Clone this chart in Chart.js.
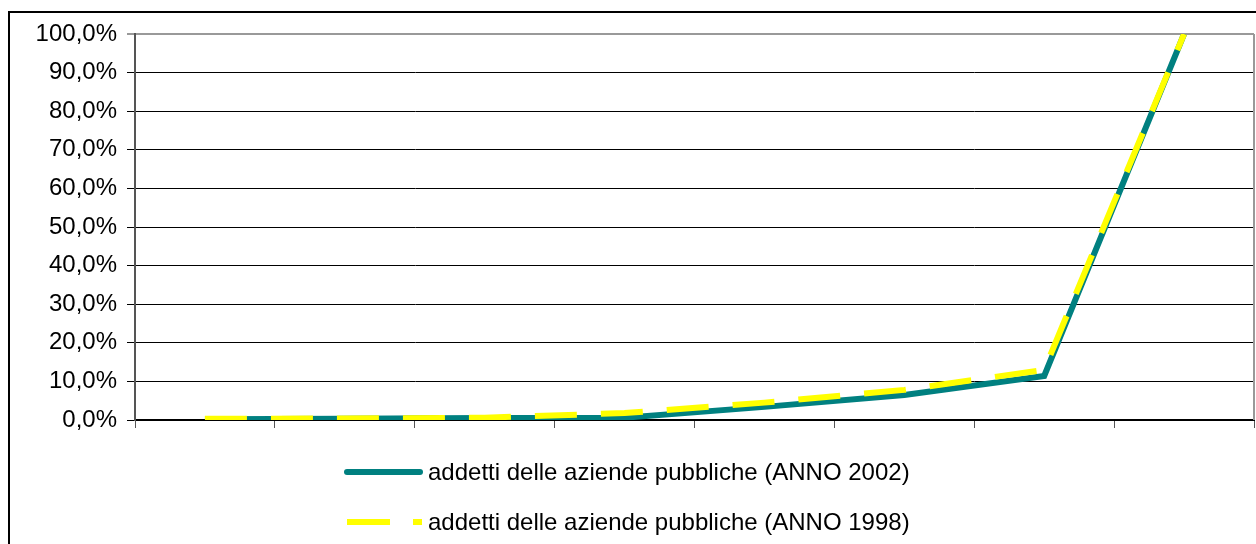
<!DOCTYPE html>
<html>
<head>
<meta charset="utf-8">
<script src="https://cdn.jsdelivr.net/npm/chart.js@4/dist/chart.umd.min.js"></script>
<style>
  html, body { margin: 0; padding: 0; background: #fff; overflow: hidden; }
  #frame { position: absolute; left: 8px; top: 11px; width: 1300px; height: 600px; border: 2px solid #000; }
  #wrap { position: absolute; left: 0; top: 0; width: 1256px; height: 544px; }
</style>
</head>
<body>
<div id="frame"></div>
<div id="wrap"><canvas id="chart" width="1256" height="544"></canvas></div>
<script>
// categories (labels are not printed on the original chart)
var categories = ["1", "2", "3", "4", "5", "6", "7", "8"];
// cumulative share of employees, %
var anno2002 = [0.2, 0.3, 0.5, 0.6, 3.4, 6.5, 11.4, 100];
var anno1998 = [0.3, 0.4, 0.6, 1.8, 4.5, 7.8, 13.0, 100];
var seriesNames = ["addetti delle aziende pubbliche (ANNO 2002)", "addetti delle aziende pubbliche (ANNO 1998)"];
var yTicks = [0, 10, 20, 30, 40, 50, 60, 70, 80, 90, 100];

var FONT = '"Liberation Sans", Arial, sans-serif';

function fmtPct(v) {
    return v.toFixed(1).replace('.', ',') + '%';
}

// legend drawn by hand: stacked rows, line samples
var legendPlugin = {
    id: 'excelLegend',
    beforeDatasetsDraw: function(chart) {
        var a = chart.chartArea, ctx = chart.ctx;
        ctx.save();
        ctx.strokeStyle = '#999';
        ctx.lineWidth = 2;
        ctx.beginPath();
        ctx.moveTo(a.right, a.top);
        ctx.lineTo(a.right, a.bottom);
        ctx.stroke();
        ctx.restore();
    },
    afterDraw: function(chart) {
        var ctx = chart.ctx;
        var rows = [472, 522];
        ctx.save();
        chart.data.datasets.forEach(function(ds, i) {
            var y = rows[i];
            ctx.strokeStyle = ds.borderColor;
            ctx.lineWidth = 6;
            if (ds.borderDash && ds.borderDash.length) {
                ctx.lineCap = 'butt';
                ctx.setLineDash([43, 23]);
                ctx.beginPath();
                ctx.moveTo(347, y);
                ctx.lineTo(422, y);
                ctx.stroke();
            } else {
                ctx.lineCap = 'round';
                ctx.setLineDash([]);
                ctx.beginPath();
                ctx.moveTo(347, y);
                ctx.lineTo(420, y);
                ctx.stroke();
            }
            ctx.setLineDash([]);
            ctx.fillStyle = '#000';
            ctx.font = '24px ' + FONT;
            ctx.textAlign = 'left';
            ctx.textBaseline = 'middle';
            ctx.fillText(ds.label, 428, y + 1);
        });
        ctx.restore();
    }
};

var ctx = document.getElementById("chart");
var myChart = new Chart(ctx, {
    type: 'line',
    data: {
        labels: categories,
        datasets: [
            {
                label: seriesNames[0],
                data: anno2002,
                borderColor: '#008080',
                backgroundColor: '#008080',
                borderWidth: 6,
                borderJoinStyle: 'miter',
                pointRadius: 0,
                tension: 0,
                fill: false,
                order: 1
            }, {
                label: seriesNames[1],
                data: anno1998,
                borderColor: '#ffff00',
                backgroundColor: '#ffff00',
                borderWidth: 6,
                borderDash: [42, 24],
                borderCapStyle: 'butt',
                pointRadius: 0,
                tension: 0,
                fill: false,
                order: 0
            }
        ]
    },
    options: {
        responsive: false,
        animation: false,
        devicePixelRatio: 1,
        layout: { padding: { top: 34, right: 2, bottom: 0, left: 0 } },
        plugins: {
            legend: { display: false },
            tooltip: { enabled: false }
        },
        scales: {
            x: {
                type: 'category',
                offset: true,
                grid: {
                    offset: true,
                    drawOnChartArea: false,
                    drawTicks: true,
                    tickLength: 8,
                    color: '#555',
                    lineWidth: 1
                },
                border: { display: true, color: '#000', width: 2 },
                ticks: { display: false },
                afterFit: function(s) { s.height = 124; }
            },
            y: {
                min: 0,
                max: 100,
                afterBuildTicks: function(s) {
                    s.ticks = yTicks.map(function(v) { return { value: v }; });
                },
                grid: {
                    color: function(c) { return c.tick && c.tick.value === 100 ? '#999' : '#000'; },
                    lineWidth: function(c) { return c.tick && c.tick.value === 100 ? 2 : 1; },
                    tickLength: 8
                },
                border: { display: true, color: '#555', width: 2 },
                ticks: {
                    color: '#000',
                    padding: 10,
                    font: { family: FONT, size: 24 },
                    callback: function(v) { return fmtPct(v); }
                },
                afterFit: function(s) { s.width = 135; }
            }
        }
    },
    plugins: [legendPlugin]
});
</script>
</body>
</html>
